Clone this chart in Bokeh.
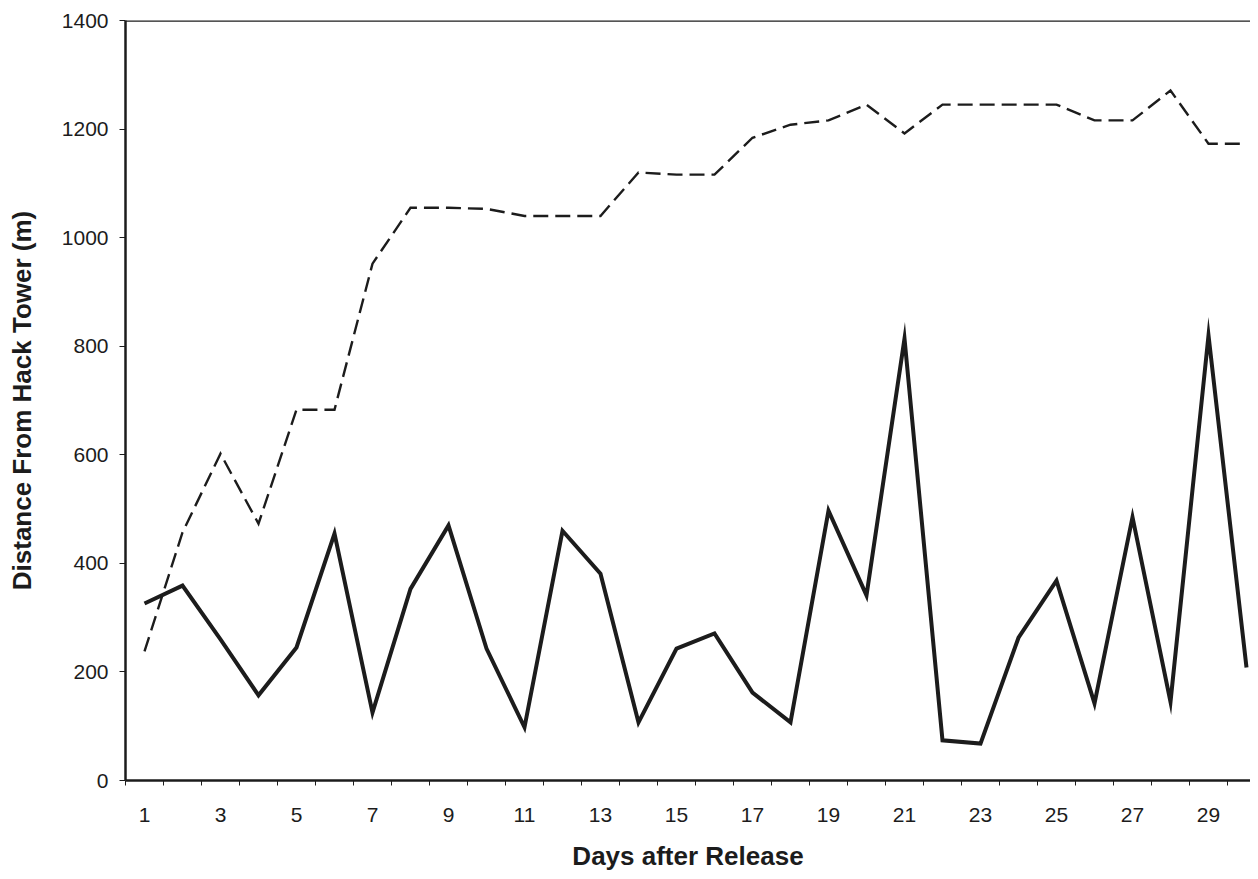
from bokeh.plotting import figure
from bokeh.models import FixedTicker, Span, Range1d
from bokeh.embed import file_html
from bokeh.resources import INLINE

days = list(range(1, 31))
dashed_values = [238, 457, 602, 473, 683, 683, 952, 1055, 1055, 1053,
                 1040, 1040, 1040, 1120, 1116, 1116, 1184, 1208, 1216, 1245,
                 1192, 1245, 1245, 1245, 1245, 1216, 1216, 1271, 1173, 1173]
solid_values = [326, 359, 260, 157, 245, 455, 125, 353, 470, 243,
                98, 460, 381, 107, 243, 271, 162, 107, 497, 341,
                814, 74, 68, 263, 368, 142, 485, 145, 820, 208]
x_tick_days = list(range(1, 30, 2))
y_ticks = [0, 200, 400, 600, 800, 1000, 1200, 1400]
x_title = "Days after Release"
y_title = "Distance From Hack Tower (m)"

INK = "#1c1c1c"
FONT = "Liberation Sans"

FRAME_W = 1125
p = figure(frame_width=FRAME_W, frame_height=760, output_backend="svg", toolbar_location=None,
           x_range=Range1d(0.5, 0.5 + FRAME_W / 38), y_range=Range1d(0, 1400),
           min_border_left=125, min_border_right=0, min_border_top=20,
           min_border_bottom=0)
p.outline_line_color = None
p.grid.visible = False
p.background_fill_color = "white"
p.border_fill_color = "white"

p.line(days, dashed_values, line_color=INK, line_width=2.4, line_dash="15 7",
       line_join="miter")
p.line(days, solid_values, line_color=INK, line_width=4, line_join="miter")

p.add_layout(Span(location=1400, dimension="width", line_color=INK, line_width=2.5))

xa = p.xaxis[0]
xa.ticker = FixedTicker(ticks=x_tick_days, minor_ticks=[d - 0.5 for d in days] + [30.5])
xa.major_tick_out = 0
xa.major_tick_in = 0
xa.minor_tick_out = 5
xa.minor_tick_in = 0
xa.minor_tick_line_color = INK
xa.minor_tick_line_width = 1
xa.axis_line_color = INK
xa.axis_line_width = 2.5
xa.major_label_standoff = 22
xa.major_label_text_font = FONT
xa.major_label_text_font_size = "21px"
xa.major_label_text_color = INK
xa.axis_label = x_title
xa.axis_label_text_font = FONT
xa.axis_label_text_font_size = "26px"
xa.axis_label_text_font_style = "bold"
xa.axis_label_text_color = INK
xa.axis_label_standoff = 16

ya = p.yaxis[0]
ya.ticker = FixedTicker(ticks=y_ticks)
ya.minor_tick_line_color = None
ya.major_tick_out = 6
ya.major_tick_in = 0
ya.major_tick_line_color = INK
ya.major_tick_line_width = 1
ya.axis_line_color = INK
ya.axis_line_width = 2.5
ya.major_label_standoff = 11
ya.major_label_text_font = FONT
ya.major_label_text_font_size = "21px"
ya.major_label_text_color = INK
ya.axis_label = y_title
ya.axis_label_text_font = FONT
ya.axis_label_text_font_size = "26px"
ya.axis_label_text_font_style = "bold"
ya.axis_label_text_color = INK
ya.axis_label_standoff = 22

open("out.html", "w").write(file_html(p, INLINE))
